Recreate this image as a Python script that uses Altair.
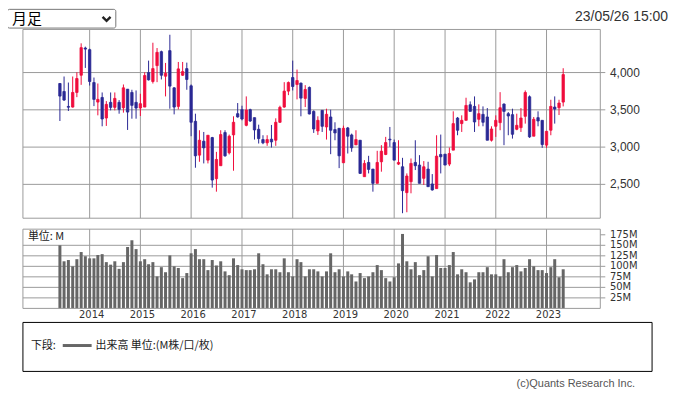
import altair as alt
import pandas as pd

# ---------------- data ----------------
months = pd.date_range("2013-06-01", periods=120, freq="MS").strftime("%Y-%m-%d").tolist()

opens = [3853, 3746, 3545, 3537, 3733, 3964, 4329, 4307, 3866, 3604,
         3666, 3390, 3600, 3533, 3600, 3528, 3777, 3733, 3600, 3524,
         3537, 4000, 3880, 4093, 4280, 3951, 4294, 3795, 3546, 3964,
         4053, 3822, 3346, 2892, 3079, 2825, 3128, 2576, 2750, 3195,
         2923, 3164, 3448, 3502, 3292, 3502, 3395, 3239, 3101, 3057,
         3106, 3092, 3333, 3537, 3751, 3933, 3840, 3858, 3653, 3800,
         3479, 3217, 3493, 3270, 3404, 3235, 3252, 2790, 3257, 3163,
         3030, 3092, 2603, 2794, 2705, 2514, 2803, 2901, 3106, 3061,
         2772, 2736, 2389, 2536, 2794, 2759, 2581, 2705, 2505, 2443,
         2901, 2905, 2772, 2959, 3390, 3315, 3359, 3568, 3546, 3373,
         3439, 3404, 3092, 3279, 3328, 3577, 3448, 3435, 3239, 3261,
         3413, 3675, 3146, 3395, 3359, 3026, 3226, 3537, 3528, 3604]
highs = [3860, 3947, 3866, 3947, 4004, 4392, 4347, 4320, 3933, 3853,
         3733, 3617, 3733, 3733, 3631, 3840, 3777, 3769, 3760, 3715,
         4004, 4160, 4400, 4329, 4294, 4129, 4507, 3804, 4142, 4142,
         4133, 3840, 3448, 3226, 3203, 3159, 3137, 2936, 3226, 3226,
         3168, 3413, 3591, 3555, 3680, 3515, 3395, 3301, 3159, 3159,
         3297, 3386, 3555, 3871, 3880, 4160, 4040, 3866, 3831, 3813,
         3493, 3413, 3493, 3515, 3502, 3333, 3252, 3288, 3270, 3181,
         3226, 3092, 2825, 2883, 2705, 2950, 3026, 3137, 3270, 3101,
         3092, 2856, 2647, 2847, 3092, 2892, 2812, 2803, 2638, 3159,
         3168, 2905, 2994, 3480, 3404, 3426, 3662, 3613, 3680, 3573,
         3546, 3524, 3279, 3426, 3737, 3586, 3470, 3515, 3448, 3524,
         3760, 3693, 3404, 3480, 3359, 3212, 3635, 3680, 3635, 4058]
lows = [3350, 3620, 3484, 3530, 3670, 3835, 4062, 3826, 3550, 3426,
        3279, 3284, 3493, 3493, 3448, 3462, 3230, 3381, 3381, 3417,
        3537, 3893, 3853, 3871, 3907, 3680, 3515, 3439, 3506, 3955,
        3769, 3146, 2723, 2803, 2781, 2781, 2456, 2402, 2750, 2870,
        2901, 2683, 3395, 3359, 3279, 3337, 3101, 3048, 3039, 3017,
        2994, 3017, 3324, 3528, 3697, 3760, 3640, 3413, 3537, 3439,
        3190, 3163, 3203, 3101, 2905, 3092, 2718, 2790, 2914, 2937,
        3030, 2640, 2603, 2647, 2402, 2514, 2670, 2892, 3004, 2825,
        2759, 2113, 2126, 2380, 2692, 2514, 2492, 2469, 2416, 2443,
        2647, 2759, 2745, 2959, 3159, 3203, 3359, 3479, 3203, 3279,
        3279, 3092, 3074, 3137, 3226, 3026, 3159, 3114, 3226, 3203,
        3315, 3123, 3146, 3279, 2990, 2990, 3159, 3315, 3430, 3546]
closes = [3684, 3631, 3535, 3733, 3920, 4334, 4315, 3880, 3640, 3640,
          3377, 3573, 3533, 3653, 3506, 3795, 3470, 3560, 3524, 3582,
          3960, 3902, 4053, 4271, 3964, 3991, 3818, 3537, 4049, 4013,
          3907, 3333, 2883, 3092, 2990, 3159, 2558, 2834, 3168, 2883,
          3146, 3333, 3404, 3377, 3497, 3350, 3230, 3114, 3057, 3101,
          3070, 3333, 3533, 3751, 3866, 3813, 3893, 3657, 3773, 3444,
          3243, 3359, 3279, 3440, 3226, 3190, 2883, 3252, 3146, 2990,
          3101, 2647, 2781, 2701, 2514, 2794, 2945, 3061, 3097, 2825,
          2794, 2416, 2612, 2781, 2750, 2514, 2736, 2469, 2425, 2879,
          2870, 2759, 2914, 3315, 3226, 3359, 3559, 3479, 3337, 3448,
          3333, 3092, 3243, 3359, 3528, 3479, 3417, 3172, 3292, 3390,
          3733, 3137, 3373, 3350, 3034, 3212, 3546, 3510, 3591, 3973]
volumes = [150, 112, 115, 100, 117, 134, 124, 119, 119, 127,
           129, 110, 104, 112, 94, 110, 146, 162, 141, 112,
           117, 105, 110, 76, 98, 86, 126, 100, 96, 72,
           84, 131, 141, 117, 117, 91, 115, 102, 112, 88,
           79, 119, 103, 93, 91, 91, 93, 131, 105, 81,
           93, 93, 86, 119, 86, 76, 117, 110, 76, 93,
           93, 88, 76, 88, 131, 86, 93, 76, 88, 81,
           64, 84, 72, 76, 86, 103, 91, 72, 64, 74,
           107, 177, 112, 93, 110, 79, 91, 124, 76, 127,
           96, 96, 103, 134, 81, 93, 86, 62, 69, 86,
           86, 98, 81, 81, 76, 117, 86, 98, 103, 88,
           96, 117, 100, 91, 91, 84, 98, 117, 74, 93]

price_ticks = [2500, 3000, 3500, 4000]
price_labels = ["2,500", "3,000", "3,500", "4,000"]
vol_ticks = [25, 50, 75, 100, 125, 150, 175]
vol_labels = ["25M", "50M", "75M", "100M", "125M", "150M", "175M"]
vol_grid = [25, 50, 75, 100, 125, 150]
year_dates = ["2014-01-01", "2015-01-01", "2016-01-01", "2017-01-01", "2018-01-01",
              "2019-01-01", "2020-01-01", "2021-01-01", "2022-01-01", "2023-01-01"]
year_labels = ["2014", "2015", "2016", "2017", "2018", "2019", "2020", "2021", "2022", "2023"]

# ---------------- style ----------------
RED = "#f00d3c"
BLUE = "#2a2894"
GRID = "#9a9a9a"
VOLC = "#666666"
TXT = "#333333"

W = 580
P_BOT = 189.6
V_TOP = 200.6
V_BOT = 280.2
H = V_BOT

candles = pd.DataFrame({"date": months, "open": opens, "high": highs,
                        "low": lows, "close": closes, "vol": volumes})
pt = pd.DataFrame({"v": price_ticks, "label": price_labels})
vt = pd.DataFrame({"v": vol_ticks, "label": vol_labels})
vg = pd.DataFrame({"v": vol_grid})
yr = pd.DataFrame({"date": year_dates, "label": year_labels})
one = pd.DataFrame({"a": [0]})

xs = alt.Scale(type="utc", padding=0,
               domain=[alt.DateTime(year=2012, month=9, date=8, utc=True),
                       alt.DateTime(year=2024, month=1, date=23, utc=True)])
ps = alt.Scale(domain=[2046, 4578], range=[P_BOT, 0], zero=False, nice=False, padding=0)
vs = alt.Scale(domain=[0, 188.4], range=[V_BOT, V_TOP], nice=False, padding=0)
X = alt.X("date:T", scale=xs, axis=None)
colors = alt.Color("dir:N", scale=alt.Scale(domain=["up", "down"], range=[RED, BLUE]), legend=None)

# ---- price panel ----
p_hgrid = alt.Chart(pt).mark_rule(color=GRID, strokeWidth=1).encode(
    y=alt.Y("v:Q", scale=ps, axis=None), x=alt.value(0), x2=alt.value(W + 5))
p_vgrid = alt.Chart(yr).mark_rule(color=GRID, strokeWidth=1).encode(
    x=X, y=alt.value(0), y2=alt.value(P_BOT))
p_border = alt.Chart(one).mark_rect(filled=False, stroke=GRID, strokeWidth=1).encode(
    x=alt.value(0), x2=alt.value(W), y=alt.value(0), y2=alt.value(P_BOT))
base = alt.Chart(candles).transform_calculate(
    dir="datum.close >= datum.open ? 'up' : 'down'")
wicks = base.mark_rule(strokeWidth=1).encode(
    x=X, y=alt.Y("low:Q", scale=ps, axis=None), y2="high:Q", color=colors)
bodies = base.mark_bar(width=2.4, strokeWidth=0.8).encode(
    x=X, y=alt.Y("open:Q", scale=ps, axis=None), y2="close:Q", color=colors, stroke=colors)
p_labels = alt.Chart(pt).mark_text(align="left", baseline="middle", font="Liberation Sans",
                                   fontSize=12, color=TXT).encode(
    x=alt.value(589.7), y=alt.Y("v:Q", scale=ps, axis=None), text="label:N")
price = alt.layer(p_hgrid, p_vgrid, wicks, bodies, p_border, p_labels)

# ---- volume panel ----
v_hgrid = alt.Chart(vg).mark_rule(color=GRID, strokeWidth=1).encode(
    y=alt.Y("v:Q", scale=vs, axis=None), x=alt.value(0), x2=alt.value(W))
v_ticks = alt.Chart(vt).mark_rule(color=GRID, strokeWidth=1).encode(
    y=alt.Y("v:Q", scale=vs, axis=None), x=alt.value(W), x2=alt.value(W + 5))
v_vgrid = alt.Chart(yr).mark_rule(color=GRID, strokeWidth=1).encode(
    x=X, y=alt.value(V_TOP), y2=alt.value(V_BOT))
v_bars = alt.Chart(candles).mark_bar(width=3, color=VOLC).encode(
    x=X, y=alt.Y("vol:Q", scale=vs, axis=None))
v_border = alt.Chart(one).mark_rect(filled=False, stroke=GRID, strokeWidth=1).encode(
    x=alt.value(0), x2=alt.value(W), y=alt.value(V_TOP), y2=alt.value(V_BOT))
v_labels = alt.Chart(vt).mark_text(align="left", baseline="middle", font="DejaVu Sans",
                                   fontSize=10, color=TXT).encode(
    x=alt.value(589.7), y=alt.Y("v:Q", scale=vs, axis=None), text="label:N")
unit = alt.Chart(one).mark_text(align="left", baseline="middle", font="Noto Sans CJK JP",
                                fontSize=11, color="#222", text="単位: M").encode(
    x=alt.value(5), y=alt.value(208.3))
volume = alt.layer(v_hgrid, v_ticks, v_vgrid, v_bars, v_border, v_labels, unit)

# ---- decorations ----
y_labels = alt.Chart(yr).mark_text(align="center", baseline="middle", font="DejaVu Sans",
                                   fontSize=10, color=TXT, dx=2).encode(
    x=X, y=alt.value(287), text="label:N")
dd_box = alt.Chart(one).mark_rect(filled=True, fill="white", stroke="#767676",
                                  strokeWidth=1, cornerRadius=2).encode(
    x=alt.value(-15.5), x2=alt.value(93.3), y=alt.value(-20.2), y2=alt.value(-1.4))
dd_text = alt.Chart(one).mark_text(align="left", baseline="middle", font="Noto Sans CJK JP",
                                   fontSize=15, color="#000", text="月足").encode(
    x=alt.value(-11), y=alt.value(-10.9))
dd_chev = alt.Chart(one).mark_point(shape="M-1,-0.5L0,0.5L1,-0.5", filled=False, size=64,
                                    strokeWidth=2.4, color="#222", opacity=1).encode(
    x=alt.value(84), y=alt.value(-10.7))
date_txt = alt.Chart(one).mark_text(align="right", baseline="middle", font="Liberation Sans",
                                    fontSize=14, color=TXT, text="23/05/26 15:00").encode(
    x=alt.value(648), y=alt.value(-12.7))
lg_box = alt.Chart(one).mark_rect(filled=False, stroke="#000", strokeWidth=1).encode(
    x=alt.value(0), x2=alt.value(632), y=alt.value(294.3), y2=alt.value(343.5))
lg_t1 = alt.Chart(one).mark_text(align="left", baseline="middle", font="Noto Sans CJK JP",
                                 fontSize=11, color="#222", text="下段:").encode(
    x=alt.value(8), y=alt.value(317.5))
lg_line = alt.Chart(one).mark_rule(color=VOLC, strokeWidth=3).encode(
    x=alt.value(40), x2=alt.value(69), y=alt.value(317.5))
lg_t2 = alt.Chart(one).mark_text(align="left", baseline="middle", font="Noto Sans CJK JP",
                                 fontSize=11, color="#222", text="出来高 単位:(M株/口/枚)").encode(
    x=alt.value(73), y=alt.value(317.5))
copy_t = alt.Chart(one).mark_text(align="right", baseline="middle", font="Liberation Sans",
                                  fontSize=11, color="#555", text="(c)Quants Research Inc.").encode(
    x=alt.value(615), y=alt.value(356.5))

chart = alt.layer(price, volume, y_labels, dd_box, dd_text, dd_chev, date_txt,
                  lg_box, lg_t1, lg_line, lg_t2, copy_t).resolve_scale(
    y="independent", color="independent").properties(
    width=W, height=H,
    padding={"left": 15, "top": 20.7, "right": 68, "bottom": 81},
    autosize=alt.AutoSizeParams(type="none"),
    background="white",
).configure_view(strokeWidth=0)

chart.save("out.html", embed_options={"renderer": "svg", "actions": False})
